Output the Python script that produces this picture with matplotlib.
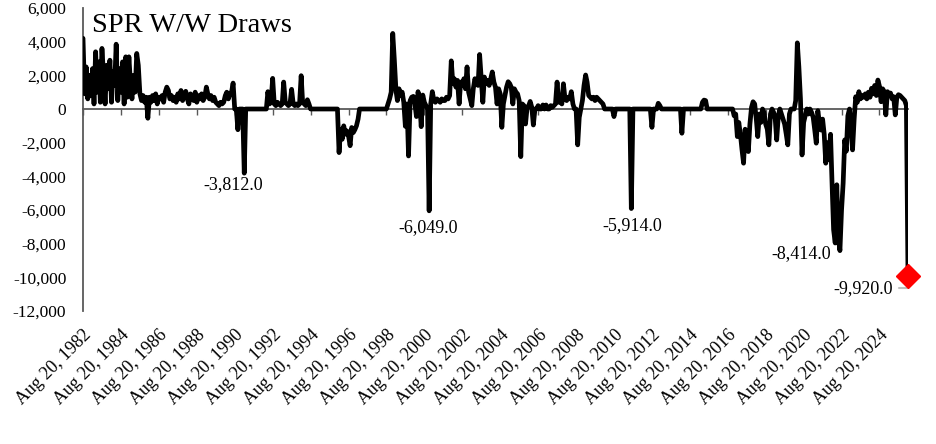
import datetime as dt
import matplotlib
matplotlib.use("Agg")
import matplotlib.pyplot as plt
import matplotlib.dates as mdates
import pandas as pd

# SPR week-over-week change, thousand barrels (one value per month)
start = "1982-08-20"

draws_1980s = [
    4200, 900, 2500, 600, 2000,                                        # 1982 Aug-Dec
    800, 2400, 300, 3400, 1000, 2800, 400, 3600, 2000, 300, 2600, 1200,  # 1983
    2900, 400, 2200, 1400, 3850, 500, 2400, 1000, 2800, 300, 3100, 700,  # 1984
    3100, 1500, 600, 2000, 1000, 3300, 2600, 900, 500, 800, 400, 700,    # 1985
    -550, 700, 400, 800, 500, 900, 300, 700, 600, 800, 400, 1000,        # 1986
    1300, 1100, 600, 800, 500, 700, 400, 900, 600, 1100, 500, 800,       # 1987
    1050, 600, 300, 900, 700, 500, 1000, 400, 800, 600, 900, 500,        # 1988
    700, 1300, 900, 600, 800, 500, 700, 400, 300, 200, 400, 300,         # 1989
]
draws_1990s = [
    400, 800, 1000, 600, 900, 1000, 1540, 0, 0, -1230, 0, 0,             # 1990
    0, -3812, 0, 0, 0, 0, 0, 0, 0, 0, 0, 0,                              # 1991
    0, 0, 0, 0, 1030, 300, 400, 1820, 300, 200, 400, 300,                # 1992
    200, 300, 1600, 400, 300, 200, 300, 1170, 300, 200, 300, 200,        # 1993
    300, 1980, 400, 300, 200, 550, 300, 0, 0, 0, 0, 0,                   # 1994
    0, 0, 0, 0, 0, 0, 0, 0, 0, 0, 0, 0,                                  # 1995
    0, -2590, -1200, -1800, -1000, -1500, -1300, -1600, -2180, -1100, -1400, -1230,  # 1996
    -1000, -600, 0, 0, 0, 0, 0, 0, 0, 0, 0, 0,                           # 1997
    0, 0, 0, 0, 0, 0, 0, 0, 300, 600, 1000, 4490,                        # 1998
    2900, 1100, 500, 1200, 800, 1000, 400, -1030, 300, -2790, 500, 700,  # 1999
]
draws_2000s = [
    750, 300, -450, 1030, 500, -1050, 830, 400, 200, 0, -6049, 300,      # 2000
    1030, 500, 400, 600, 500, 400, 600, 500, 500, 700, 600, 800,         # 2001
    2860, 1500, 1800, 1300, 1700, 300, 1600, 1400, 1800, 1200, 2500, 1000,  # 2002
    600, 200, 1200, 1800, 1500, 1400, 3240, 1800, 400, 1900, 1500, 1700,    # 2003
    1400, 1800, 2200, 1600, 1300, 300, 1200, 900, -1090, 300, 800, 1300,    # 2004
    1620, 1500, 1300, 300, 1200, 1000, 900, 500, -2830, 300, 200, -890,     # 2005
    100, 200, 450, 100, -950, 0, 0, 200, 0, 0, 240, 0,                   # 2006
    240, 0, 0, 200, 100, 200, 300, 1600, 400, 500, 300, 1500,            # 2007
    600, 500, 700, 600, 1030, 300, 0, 0, -2130, -500, 0, 500,            # 2008
    1400, 2020, 1600, 800, 700, 600, 700, 500, 700, 600, 500, 400,       # 2009
]
draws_2010s = [
    300, 0, 0, 0, 0, 0, 0, -450, 0, 0, 0, 0,                             # 2010
    0, 0, 0, 0, 0, 0, -5914, 0, 0, 0, 0, 0,                              # 2011
    0, 0, 0, 0, 0, 0, 0, -1090, 0, 0, 0, 340,                            # 2012
    200, 0, 0, 0, 0, 0, 0, 0, 0, 0, 0, 0,                                # 2013
    0, 0, -1440, 0, 0, 0, 0, 0, 0, 0, 0, 0,                              # 2014
    0, 0, 0, 400, 530, 500, 0, 0, 0, 0, 0, 0,                            # 2015
    0, 0, 0, 0, 0, 0, 0, 0, 0, 0, 0, -400,                               # 2016
    -300, -1640, -800, -1500, -2400, -3220, -1200, -1900, -2530, -900, 100, 430,  # 2017
    300, -600, -1640, -300, -800, 0, -200, -900, -1200, -2130, -300, 0,  # 2018
    -200, -600, -1840, -400, 0, -300, -600, -900, -1500, -2130, -300, 0,  # 2019
]
draws_2020s = [
    0, 0, 500, 3930, 2500, 600, -2730, -800, -400, 0, -300, 0,           # 2020
    -200, -500, -1200, -2030, -100, -800, -1250, -600, -1500, -3220, -2000, -3000,  # 2021
    -1500, -4600, -7170, -7960, -4500, -7700, -8414, -6000, -4400, -1840, -2500, -400,  # 2022
    0, -1200, -2430, -600, 730, 400, 1030, 600, 800, 700, 900, 600,      # 2023
    1000, 700, 1230, 900, 1400, 800, 1720, 1340, 430, 1200, 1030, -350,  # 2024
    1030, 900, 950, 600, 730, -350, 700, 850, 800, 700, 600, 500,        # 2025
    200, -9920,                                                          # 2026 Jan-Feb
]

labelled = [-3812, -6049, -5914, -8414]
label_offsets = [(-8, -8), (-1, -12), (1, -12), (-28, -2)]   # points
tick_years = list(range(1982, 2025, 2))
y_ticks = list(range(-12000, 6001, 2000))

values = draws_1980s + draws_1990s + draws_2000s + draws_2010s + draws_2020s
dates = pd.date_range(start, periods=len(values), freq=pd.DateOffset(months=1))
x = mdates.date2num(dates.to_pydatetime())

plt.rcParams["font.family"] = ["Liberation Serif", "DejaVu Serif"]

fig = plt.figure(figsize=(9.36, 4.44), dpi=100)
ax = fig.add_axes([83 / 936, 1 - 311 / 444, (908 - 83) / 936, 303 / 444])

ax.plot(x, values, color="black", lw=3.4, solid_joinstyle="round",
        solid_capstyle="round", zorder=3)
ax.plot(x[-1], values[-1], marker="D", ms=12, color="#FF0000",
        clip_on=False, zorder=5)

ax.set_xlim(x[0], x[-1])
ax.set_ylim(-12000, 6000)

ax.set_yticks(y_ticks)
ax.set_yticklabels([f"{v:,}" for v in y_ticks])
ax.tick_params(axis="y", length=0, pad=12, labelsize=12.5)

ticks = [mdates.date2num(dt.datetime(y, 8, 20)) for y in tick_years]
ax.set_xticks(ticks)
ax.tick_params(axis="x", labelbottom=False, direction="out", length=4,
               width=1, color="#595959")

for s in ["top", "right"]:
    ax.spines[s].set_visible(False)
ax.spines["bottom"].set_position(("data", 0))
ax.spines["bottom"].set_color("#595959")
ax.spines["bottom"].set_linewidth(1.3)
ax.spines["left"].set_color("#595959")
ax.spines["left"].set_linewidth(1.3)

sec = ax.secondary_xaxis(0.0)
sec.set_xticks(ticks)
sec.set_xticklabels([f"Aug 20, {y}" for y in tick_years], rotation=45,
                    ha="right", va="top", rotation_mode="anchor")
sec.tick_params(length=0, pad=11, labelsize=13)
sec.spines["bottom"].set_visible(False)

ax.text(0.011, 0.922, "SPR W/W Draws", transform=ax.transAxes,
        fontsize=20.5, va="baseline", ha="left")

for v, off in zip(labelled, label_offsets):
    i = values.index(v)
    ax.annotate(f"{v:,.1f}", xy=(x[i], v), xytext=off,
                textcoords="offset points", ha="center", va="center",
                fontsize=13)

ax.annotate(f"{values[-1]:,.1f}", xy=(x[-1], values[-1]), xytext=(-32, -9),
            textcoords="offset points", ha="center", va="center", fontsize=13,
            arrowprops=dict(arrowstyle="-", color="#BFBFBF", lw=1.5,
                            connectionstyle="angle,angleA=0,angleB=90,rad=0",
                            shrinkA=2, shrinkB=6))

fig.savefig("out.png", dpi=100)
